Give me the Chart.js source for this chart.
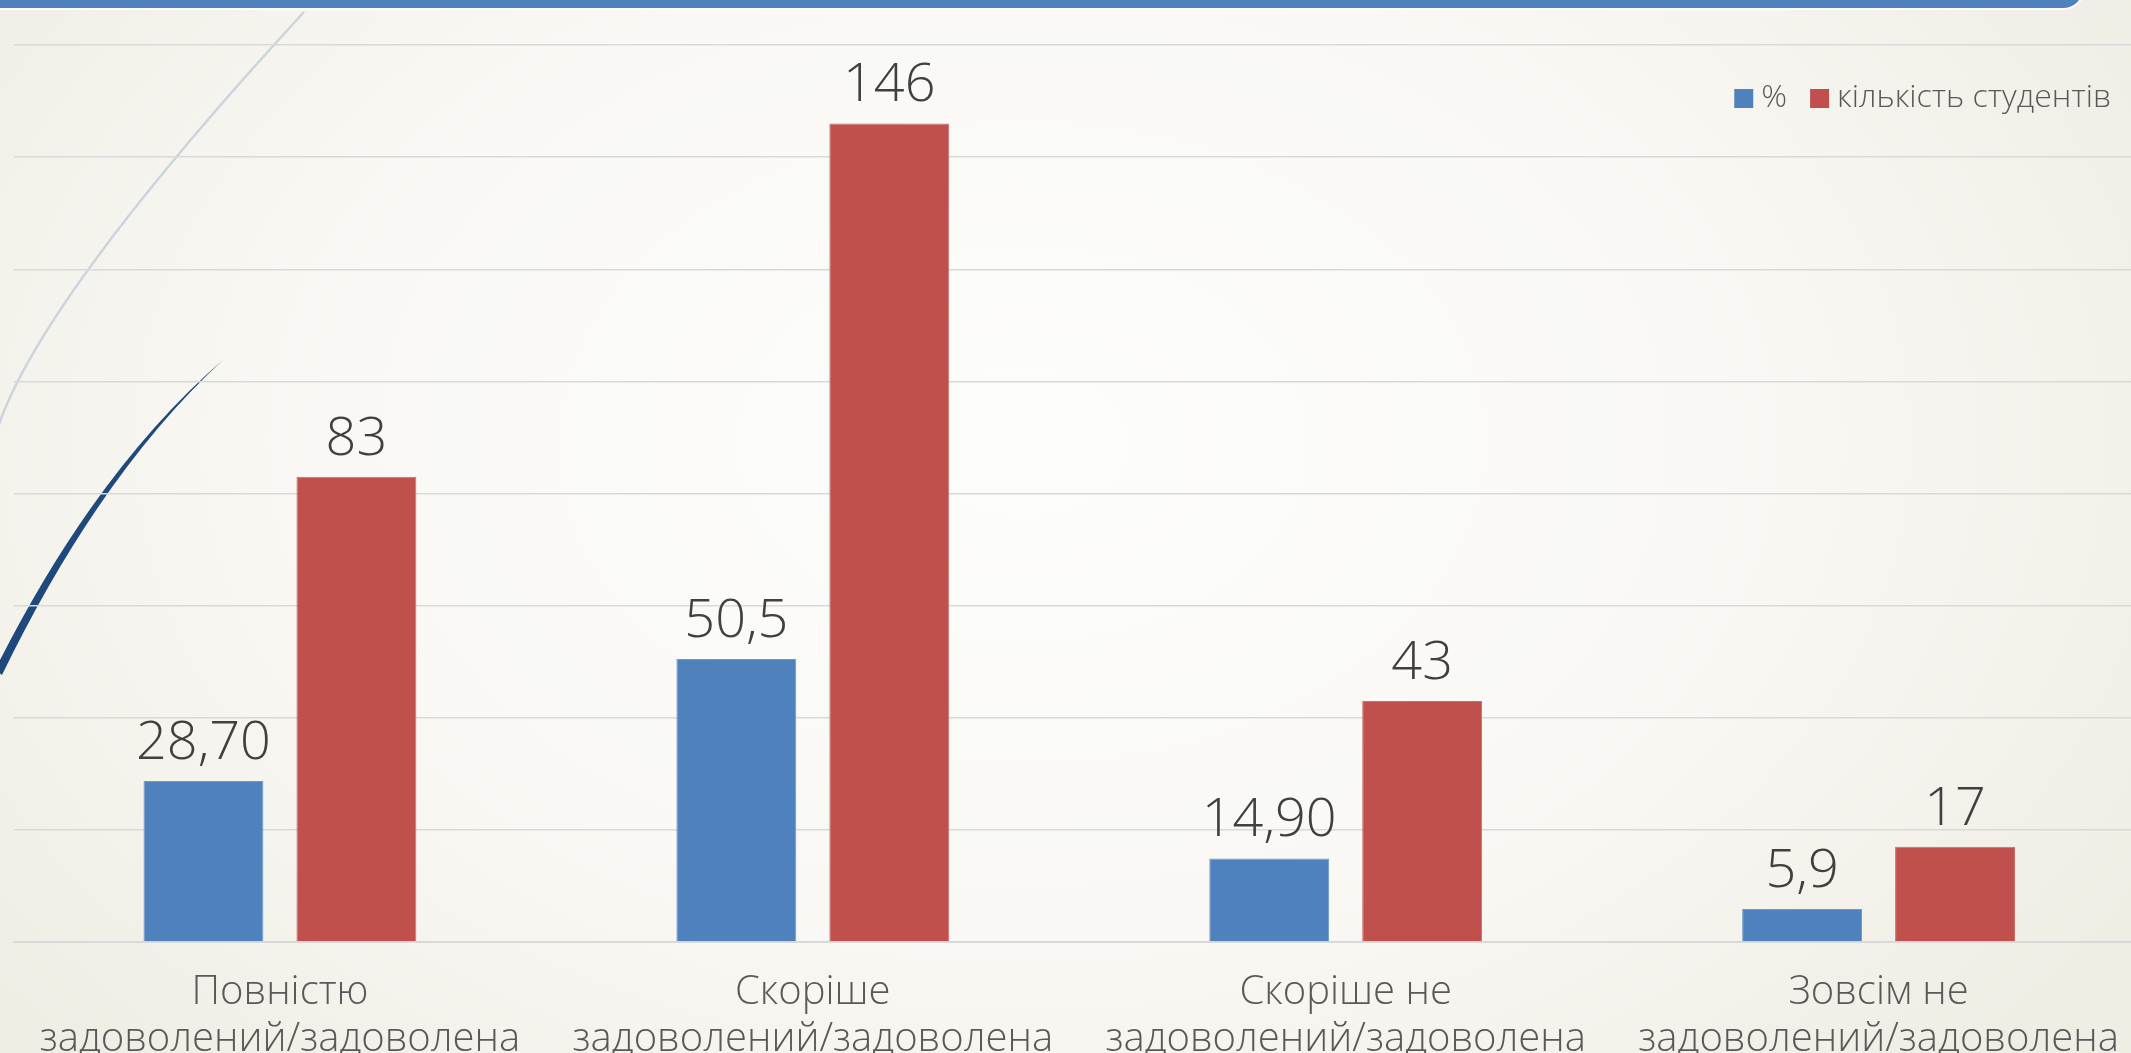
<!DOCTYPE html>
<html>
<head>
<meta charset="utf-8">
<script src="https://cdn.jsdelivr.net/npm/chart.js@4.4.1/dist/chart.umd.min.js"></script>
<style>
  html, body { margin: 0; padding: 0; overflow: hidden; }
  body {
    width: 2131px; height: 1053px; position: relative;
    background: radial-gradient(ellipse 1300px 900px at 48% 42%, #fdfdfb 0%, #f9f8f4 55%, #efede4 100%);
  }
  #band {
    position: absolute; left: -10px; top: -12px; width: 2091px; height: 18px;
    background: #4f81bd; border: 2px solid #ffffff; border-bottom-right-radius: 22px; z-index: 3;
  }
  #deco { position: absolute; left: 0; top: 0; z-index: 0; }
  #wrap { position: absolute; left: 0; top: 0; width: 2150px; height: 1082px; z-index: 1; }
</style>
</head>
<body>
<div id="band"></div>
<svg id="deco" width="2131" height="1053">
  <path d="M 304 12 Q 29 311 -6 440" fill="none" stroke="#cdd4dd" stroke-width="2.5"/>
  <path d="M -5 670 Q 95 470 224 359 Q 100 473 2 675 Z" fill="#1f497d"/>
</svg>
<div id="wrap"><canvas id="satisfactionBar"></canvas></div>
<script>
var categories = [
  ["Повністю", "задоволений/задоволена"],
  ["Скоріше", "задоволений/задоволена"],
  ["Скоріше не", "задоволений/задоволена"],
  ["Зовсім не", "задоволений/задоволена"]
];
var percentValues = [28.7, 50.5, 14.9, 5.9];
var percentLabels = ["28,70", "50,5", "14,90", "5,9"];
var studentValues = [83, 146, 43, 17];
var studentLabels = ["83", "146", "43", "17"];
var seriesNames = ["%", "кількість студентів"];

var FONT = "'Open Sans', 'DejaVu Sans', sans-serif";

// value labels above bars
var valueLabels = {
  id: 'valueLabels',
  afterDatasetsDraw: function(chart) {
    var ctx = chart.ctx;
    var texts = [percentLabels, studentLabels];
    ctx.save();
    ctx.font = "300 54px " + FONT;
    ctx.fillStyle = "#404040";
    ctx.textAlign = "center";
    ctx.textBaseline = "alphabetic";
    chart.data.datasets.forEach(function(ds, d) {
      chart.getDatasetMeta(d).data.forEach(function(bar, i) {
        ctx.fillText(texts[d][i], bar.x, bar.y - 22);
      });
    });
    ctx.restore();
  }
};

// legend in the top right corner, inside the plot
var cornerLegend = {
  id: 'cornerLegend',
  afterDraw: function(chart) {
    var ctx = chart.ctx;
    ctx.save();
    ctx.font = "300 32px " + FONT;
    ctx.textBaseline = "middle";
    ctx.textAlign = "left";
    var x = 2111, cy = 98;
    var items = chart.data.datasets.slice().reverse();
    items.forEach(function(ds) {
      var w = ctx.measureText(ds.label).width;
      var tx = x - w;
      ctx.fillStyle = "#595959";
      ctx.fillText(ds.label, tx, cy);
      ctx.fillStyle = ds.backgroundColor;
      ctx.fillRect(tx - 8 - 19, cy - 9, 19, 19);
      x = tx - 8 - 19 - 23;
    });
    ctx.restore();
  }
};

var ctx = document.getElementById("satisfactionBar");
var chart = new Chart(ctx, {
  type: 'bar',
  data: {
    labels: categories,
    datasets: [{
      label: seriesNames[0],
      data: percentValues,
      backgroundColor: "#4f81bd",
      borderColor: "#6d98cc",
      borderWidth: 1
    }, {
      label: seriesNames[1],
      data: studentValues,
      backgroundColor: "#c0504d",
      borderColor: "#cc6b68",
      borderWidth: 1
    }]
  },
  options: {
    responsive: true,
    maintainAspectRatio: false,
    animation: false,
    events: [],
    categoryPercentage: 0.574,
    barPercentage: 0.784,
    layout: { padding: { left: 13.5, top: 45, right: 5, bottom: 0 } },
    plugins: {
      legend: { display: false },
      tooltip: { enabled: false }
    },
    scales: {
      x: {
        grid: { display: false },
        border: { color: "#d9d9d9", width: 2 },
        ticks: {
          color: "#595959",
          padding: 19,
          maxRotation: 0,
          autoSkip: false,
          font: { family: FONT, size: 40, weight: '300', lineHeight: 1.175 }
        }
      },
      y: {
        min: 0,
        max: 160,
        ticks: { display: false, stepSize: 20 },
        border: { display: false },
        grid: { color: "#d9d9d9", lineWidth: 1.5, drawTicks: false }
      }
    }
  },
  plugins: [valueLabels, cornerLegend]
});
</script>
</body>
</html>
